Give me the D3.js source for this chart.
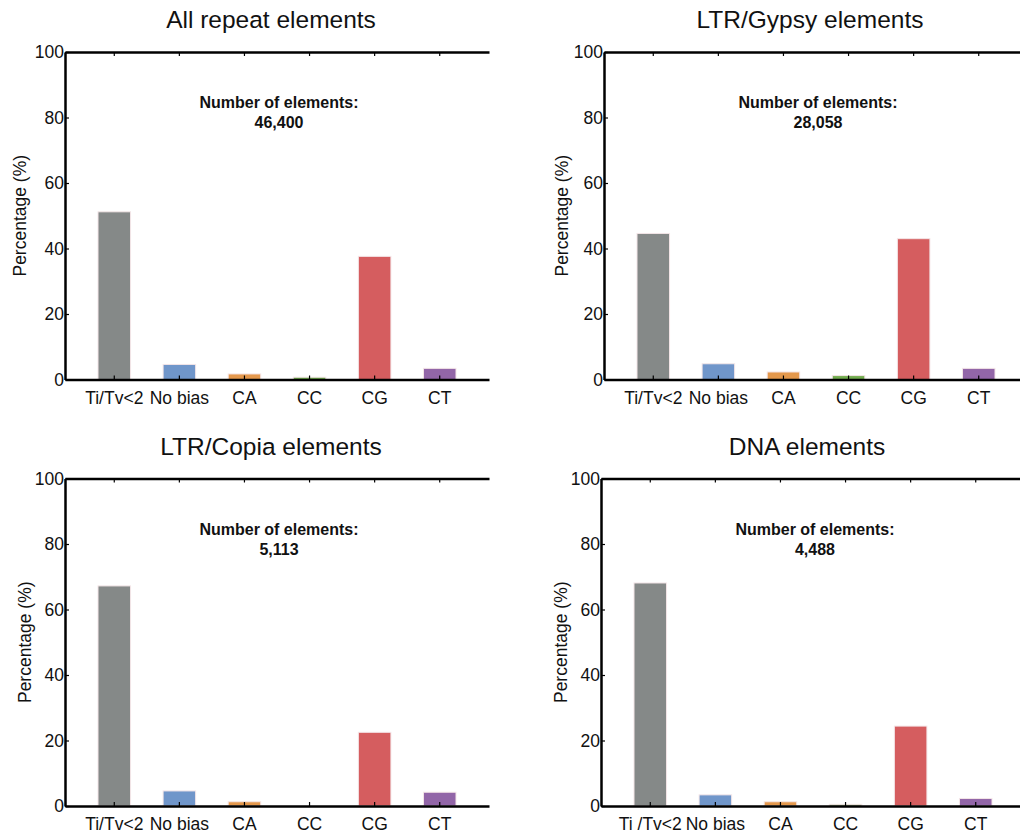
<!DOCTYPE html>
<html>
<head>
<meta charset="utf-8">
<script src="https://cdn.jsdelivr.net/npm/d3@7"></script>
<style>
  html, body { margin: 0; padding: 0; background: #fff; }
  svg { display: block; font-family: "Liberation Sans", Arial, Helvetica, sans-serif; }
</style>
</head>
<body>
<svg id="chart" width="1020" height="834"></svg>
<script>
const categories = ["Ti/Tv<2", "No bias", "CA", "CC", "CG", "CT"];
const categoriesDNA = ["Ti /Tv<2", "No bias", "CA", "CC", "CG", "CT"];
const barColors = ["#858988", "#7096ca", "#e4984c", "#72ad4f", "#d55d5f", "#9266a8"];
const titles = ["All repeat elements", "LTR/Gypsy elements", "LTR/Copia elements", "DNA elements"];
const elementCounts = ["46,400", "28,058", "5,113", "4,488"];
const yTicks = [0, 20, 40, 60, 80, 100];

const allRepeat = [51.2, 4.6, 1.7, 0.7, 37.6, 3.4];
const ltrGypsy  = [44.6, 4.8, 2.3, 1.2, 43.0, 3.4];
const ltrCopia  = [67.2, 4.6, 1.3, 0.0, 22.5, 4.2];
const dnaElems  = [68.1, 3.4, 1.3, 0.5, 24.4, 2.3];

const panels = [
  { title: titles[0], count: elementCounts[0], values: allRepeat, labels: categories,    left: 65,  top: 52,  bottom: 379.5, ylab: 45 },
  { title: titles[1], count: elementCounts[1], values: ltrGypsy,  labels: categories,    left: 604, top: 52,  bottom: 379.5, ylab: 42 },
  { title: titles[2], count: elementCounts[2], values: ltrCopia,  labels: categories,    left: 65,  top: 478.5, bottom: 806, ylab: 40 },
  { title: titles[3], count: elementCounts[3], values: dnaElems,  labels: categoriesDNA, left: 601, top: 478.5, bottom: 806, ylab: 40 }
];

const svg = d3.select("#chart");
const plotWidth = 424;

panels.forEach(p => {
  const g = svg.append("g");
  const x = d3.scaleBand().domain(d3.range(6)).range([p.left, p.left + plotWidth])
    .paddingInner(0.5).paddingOuter(0.507);
  const y = d3.scaleLinear().domain([0, 100]).range([p.bottom, p.top]);

  // bars
  g.selectAll("rect.bar").data(p.values).enter().append("rect")
    .attr("class", "bar")
    .attr("x", (d, i) => x(i))
    .attr("width", x.bandwidth())
    .attr("y", d => y(d))
    .attr("height", d => Math.max(0, y(0) - y(d)))
    .attr("fill", (d, i) => barColors[i])
    .attr("stroke", "#f4e6e8")
    .attr("stroke-width", 1);

  // bottom axis with inward ticks
  const xAxis = d3.axisBottom(x).tickSizeInner(-4).tickSizeOuter(0)
    .tickFormat(i => p.labels[i]).tickPadding(12);
  const gx = g.append("g").attr("transform", `translate(0,${p.bottom})`).call(xAxis);
  gx.select(".domain").attr("stroke", "#000").attr("stroke-width", 2.5);
  gx.selectAll(".tick line").attr("stroke", "#000").attr("stroke-width", 1.2);
  gx.selectAll(".tick text").attr("font-size", 17.5).attr("fill", "#111").attr("dy", "0.71em");

  // top axis with inward ticks, no labels
  const xTop = d3.axisTop(x).tickSizeInner(-4).tickSizeOuter(0).tickFormat("");
  const gt = g.append("g").attr("transform", `translate(0,${p.top})`).call(xTop);
  gt.select(".domain").attr("stroke", "#000").attr("stroke-width", 2.5);
  gt.selectAll(".tick line").attr("stroke", "#000").attr("stroke-width", 1.2);

  // left axis
  const yAxis = d3.axisLeft(y).tickValues(yTicks).tickSizeInner(-4).tickSizeOuter(0).tickPadding(1);
  const gy = g.append("g").attr("transform", `translate(${p.left},0)`).call(yAxis);
  gy.select(".domain").attr("stroke", "#000").attr("stroke-width", 2.5);
  gy.selectAll(".tick line").attr("stroke", "#000").attr("stroke-width", 1.2);
  gy.selectAll(".tick text").attr("font-size", 17.5).attr("fill", "#111");

  // y label
  g.append("text")
    .attr("transform", `translate(${p.left - p.ylab},${(p.top + p.bottom) / 2}) rotate(-90)`)
    .attr("text-anchor", "middle")
    .attr("dy", "0.35em")
    .attr("font-size", 17.5)
    .attr("fill", "#111")
    .text("Percentage (%)");

  // title
  const cx = p.left + 206;
  g.append("text")
    .attr("x", cx).attr("y", p.top - 24)
    .attr("text-anchor", "middle")
    .attr("font-size", 24.5)
    .attr("fill", "#111")
    .text(p.title);

  // annotation
  const ax = p.left + 214;
  g.append("text")
    .attr("x", ax).attr("y", p.top + 56)
    .attr("text-anchor", "middle")
    .attr("font-size", 16).attr("font-weight", "bold").attr("fill", "#111")
    .text("Number of elements:");
  g.append("text")
    .attr("x", ax).attr("y", p.top + 76)
    .attr("text-anchor", "middle")
    .attr("font-size", 16).attr("font-weight", "bold").attr("fill", "#111")
    .text(p.count);
});
</script>
</body>
</html>
